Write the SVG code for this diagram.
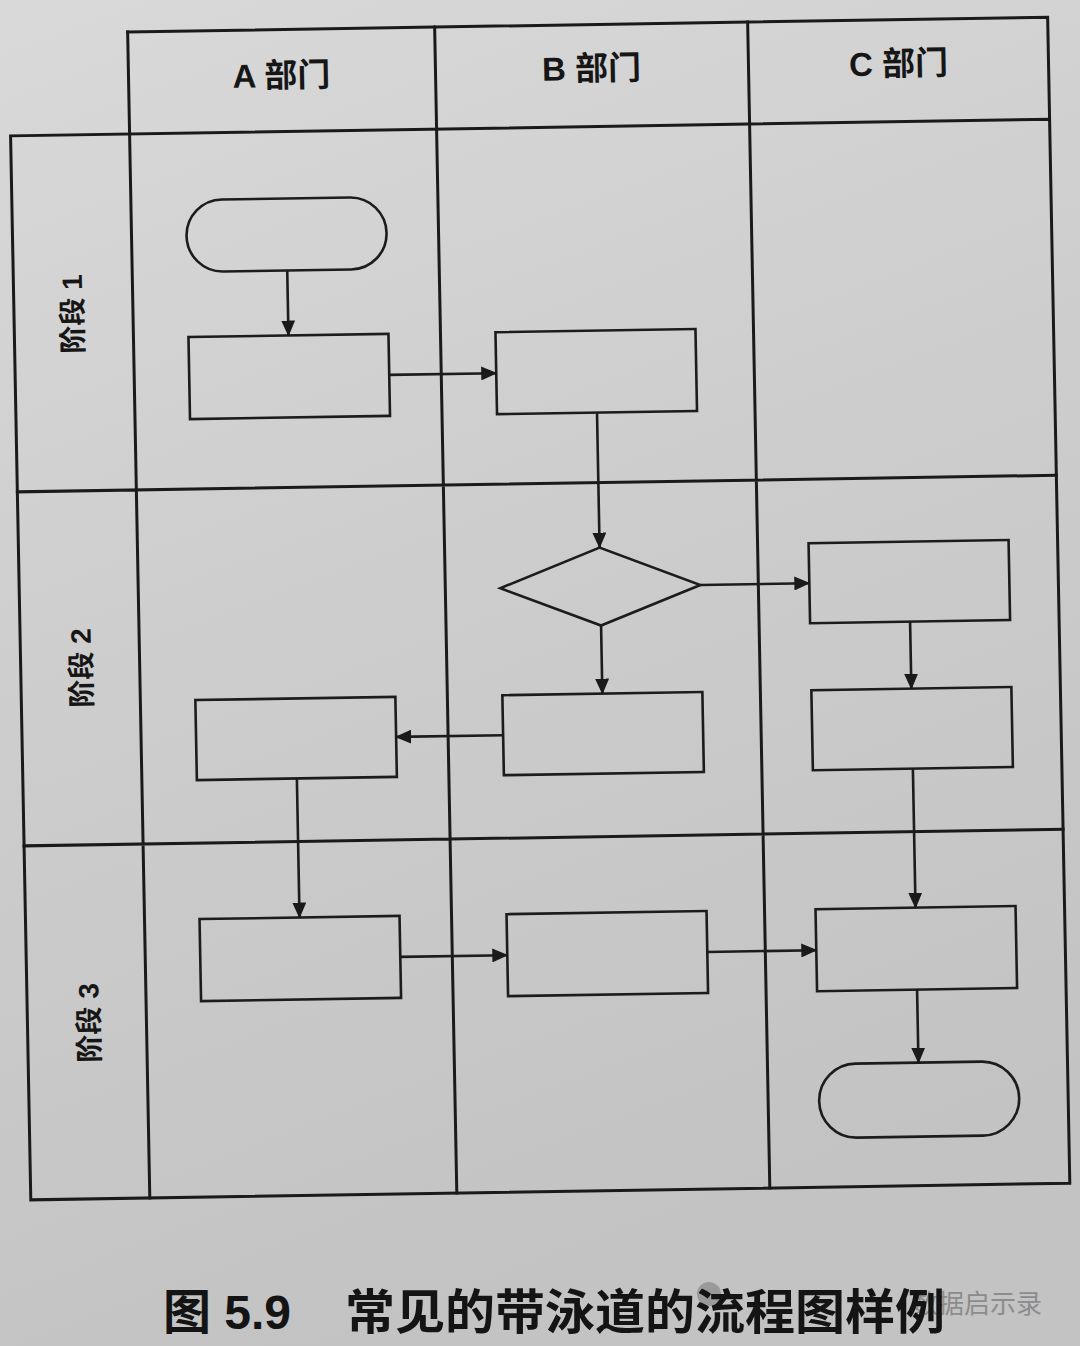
<svg xmlns="http://www.w3.org/2000/svg" width="1080" height="1346" viewBox="0 0 1080 1346">
<defs>
<linearGradient id="paper" x1="0" y1="0" x2="0.3" y2="1">
<stop offset="0" stop-color="#d9d9d9"/>
<stop offset="0.5" stop-color="#cdcdcd"/>
<stop offset="1" stop-color="#c3c3c3"/>
</linearGradient>
<marker id="arr" markerUnits="userSpaceOnUse" markerWidth="16" markerHeight="14" refX="15" refY="7" orient="auto">
<path d="M0,0 L16,7 L0,14 Z" fill="#1a1a1a"/>
</marker>
<style>
.grid{fill:none;stroke:#1a1a1a;stroke-width:3;stroke-linecap:square}
.node{fill:none;stroke:#1c1c1c;stroke-width:2.6}
.conn{fill:none;stroke:#1c1c1c;stroke-width:2.6;marker-end:url(#arr)}
.hdr{font-family:"Liberation Sans","Noto Sans CJK SC",sans-serif;font-size:33px;font-weight:bold;fill:#161616;text-anchor:middle;dominant-baseline:central}
.stg{font-family:"Liberation Sans","Noto Sans CJK SC",sans-serif;font-size:28px;font-weight:bold;fill:#161616;text-anchor:middle;dominant-baseline:central}
.cap{font-family:"Liberation Sans","Noto Sans CJK SC",sans-serif;font-size:48px;font-weight:bold;fill:#141414}
.wm{font-family:"Noto Sans CJK SC",sans-serif;font-size:26px;fill:#8c8c8c}
</style>
</defs>
<rect x="0" y="0" width="1080" height="1346" fill="url(#paper)"/>
<g transform="matrix(1,-0.016,0.019,1,0,0)">
<g id="swimlane-grid">
<path class="grid" d="M127,34 H1047 V1200 H8 V136 H1047"/>
<path class="grid" d="M127,34 V1200 M434,34 V1200 M747,34 V1200 M8,492 H1047 M8,846 H1047"/>
</g>
<g id="header-A"><text class="hdr" x="280" y="80">A 部门</text></g>
<g id="header-B"><text class="hdr" x="590" y="78">B 部门</text></g>
<g id="header-C"><text class="hdr" x="897" y="78">C 部门</text></g>
<g id="stage-1"><text class="stg" transform="translate(67,315) rotate(-90)">阶段 1</text></g>
<g id="stage-2"><text class="stg" transform="translate(69,669) rotate(-90)">阶段 2</text></g>
<g id="stage-3"><text class="stg" transform="translate(70,1024) rotate(-90)">阶段 3</text></g>
<g id="start"><rect class="node" x="182" y="203" width="200" height="72" rx="36"/></g>
<g id="a1"><rect class="node" x="182" y="340" width="200" height="82"/></g>
<g id="b1"><rect class="node" x="489" y="340" width="200" height="82"/></g>
<g id="decision"><path class="node" d="M489,596 L589,557 L689,596 L589,635 Z"/></g>
<g id="c1"><rect class="node" x="798" y="556" width="200" height="80"/></g>
<g id="a2"><rect class="node" x="182" y="703" width="200" height="80"/></g>
<g id="b2"><rect class="node" x="489" y="703" width="200" height="80"/></g>
<g id="c2"><rect class="node" x="798" y="703" width="200" height="80"/></g>
<g id="a3"><rect class="node" x="182" y="922" width="200" height="82"/></g>
<g id="b3"><rect class="node" x="489" y="922" width="200" height="82"/></g>
<g id="c3"><rect class="node" x="798" y="922" width="200" height="82"/></g>
<g id="end"><rect class="node" x="798" y="1077" width="200" height="74" rx="37"/></g>
<g id="connectors">
<path class="conn" d="M282,275 V340"/>
<path class="conn" d="M382,381 H489"/>
<path class="conn" d="M589,422 V557"/>
<path class="conn" d="M689,596 H798"/>
<path class="conn" d="M589,635 V703"/>
<path class="conn" d="M489,743 H382"/>
<path class="conn" d="M898,636 V703"/>
<path class="conn" d="M282,783 V922"/>
<path class="conn" d="M898,783 V922"/>
<path class="conn" d="M382,963 H489"/>
<path class="conn" d="M689,963 H798"/>
<path class="conn" d="M898,1004 V1077"/>
</g>
</g>
<g id="watermark">
<circle cx="709" cy="1294" r="12" fill="#9a9a9a"/>
<text class="wm" x="912" y="1313">数据启示录</text>
</g>
<g id="caption">
<text class="cap" x="163" y="1329">图 5.9</text>
<text class="cap" x="345" y="1329" textLength="600" lengthAdjust="spacingAndGlyphs">常见的带泳道的流程图样例</text>
</g>
</svg>
